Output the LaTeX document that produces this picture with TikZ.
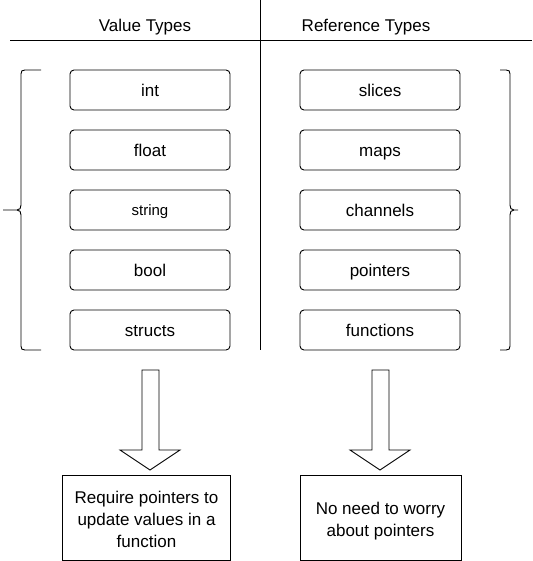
\documentclass[tikz,border=0pt]{standalone}
\usepackage{fontspec}
\setmainfont{Liberation Sans}
\begin{document}
\begin{tikzpicture}[x=1pt,y=-1pt,
  ln/.style={draw=black,line width=0.9pt},
  typebox/.style={ln,rounded corners=4pt,minimum width=160pt,minimum height=40pt,inner sep=0pt,text height=16.5pt,text depth=3pt,font=\fontsize{17}{20}\selectfont},
  notebox/.style={ln,minimum width=168pt,minimum height=85pt,inner sep=0pt},
  notetext/.style={align=center,inner sep=0pt,font=\fontsize{17}{22}\selectfont},
  hdr/.style={font=\fontsize{17}{20}\selectfont}]
\useasboundingbox (0,0) rectangle (532,561);
% header lines
\coordinate (hl) at (10,40);
\coordinate (hr) at (532,40);
\coordinate (vt) at (260,0);
\coordinate (vb) at (260,350);
\draw[ln] (hl) -- (hr);
\draw[ln] (vt) -- (vb);
\node[hdr] (vh) at (145,27) {Value Types};
\node[hdr] (rh) at (366,27) {Reference Types};
% boxes
\node[typebox] (int) at (150,90) {int};
\node[typebox] (float) at (150,150) {float};
\node[typebox,font=\fontsize{15}{18}\selectfont,text height=14pt,text depth=3pt] (string) at (150,210) {string};
\node[typebox] (bool) at (150,270) {bool};
\node[typebox] (structs) at (150,330) {structs};
\node[typebox] (slices) at (380,90) {slices};
\node[typebox] (maps) at (380,150) {maps};
\node[typebox] (channels) at (380,210) {channels};
\node[typebox] (pointers) at (380,270) {pointers};
\node[typebox] (functions) at (380,330) {functions};
% braces
\draw[ln] (41,70) -- (25,70) .. controls (22,70) and (21,71) .. (21,74) -- (21,205)
  .. controls (21,208) and (20,210) .. (17,210) -- (3,210);
\draw[ln] (17,210) .. controls (20,210) and (21,212) .. (21,215) -- (21,346)
  .. controls (21,349) and (22,350) .. (25,350) -- (41,350);
\draw[ln] (500,70) -- (506,70) .. controls (509,70) and (510,71) .. (510,74) -- (510,205)
  .. controls (510,208) and (511,210) .. (514,210) -- (518,210);
\draw[ln] (514,210) .. controls (511,210) and (510,212) .. (510,215) -- (510,346)
  .. controls (510,349) and (509,350) .. (506,350) -- (500,350);
% block arrows
\draw[ln,line join=miter] (142,370) -- (159,370) -- (159,450) -- (180,450) -- (150,470) -- (120,450) -- (142,450) -- cycle;
\draw[ln,line join=miter] (372,370) -- (389,370) -- (389,450) -- (410,450) -- (380,470) -- (350,450) -- (372,450) -- cycle;
% notes
\node[notebox] (req) at (146.5,517.5) {};
\node[notetext,yshift=-2pt] (reqt) at (req.center) {Require pointers to\\update values in a\\function};
\node[notebox,minimum width=161pt] (noneed) at (380.5,517.5) {};
\node[notetext,yshift=-4pt] (noneedt) at (noneed.center) {No need to worry\\about pointers};
\end{tikzpicture}
\end{document}
